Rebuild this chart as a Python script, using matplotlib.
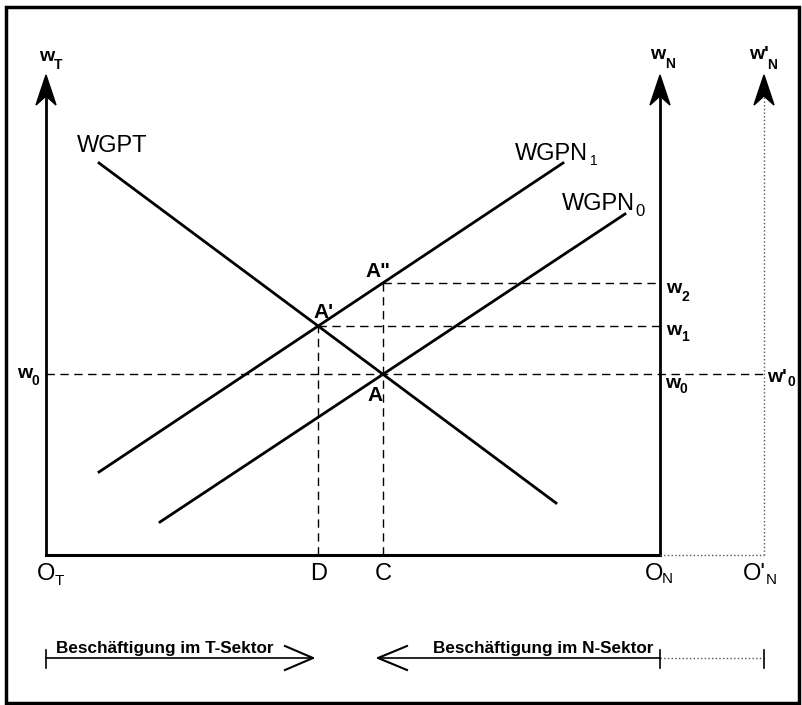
import numpy as np
import matplotlib
matplotlib.use("Agg")
import matplotlib.pyplot as plt
from matplotlib.patches import Polygon, Rectangle

# Set graph parameters.
plt.rcParams['font.family'] = ['Liberation Sans', 'DejaVu Sans']

# Diagram data (x: employment from O_T, y: wage).
x_origin_n = 614          # O_N
x_origin_n_new = 718      # O'_N
y_axis_top = 480
wgpt_x = [53, 510]
wgpt_y = [392, 52]
wgpn1_x = [53, 517]
wgpn1_y = [83, 392]
wgpn0_x = [114, 579]
wgpn0_y = [33, 341]


def line_coef(xs, ys):
    m = (ys[1] - ys[0]) / (xs[1] - xs[0])
    return m, ys[0] - m * xs[0]


def intersect(c1, c2):
    x = (c2[1] - c1[1]) / (c1[0] - c2[0])
    return x, c1[0] * x + c1[1]


c_t = line_coef(wgpt_x, wgpt_y)
c_n1 = line_coef(wgpn1_x, wgpn1_y)
c_n0 = line_coef(wgpn0_x, wgpn0_y)
x_c, w0 = intersect(c_t, c_n0)          # point A
x_d, w1 = intersect(c_t, c_n1)          # point A'
w2 = c_n1[0] * x_c + c_n1[1]            # point A''

fig = plt.figure(figsize=(8.02, 7.05), dpi=100)
ax = fig.add_axes([0, 0, 1, 1])
ax.set_xlim(-46, 756)
ax.set_ylim(-150, 555)
ax.axis('off')


def sub_label(x, y, main, sub, dx, dy, size=14, sub_size=10, weight='bold'):
    """ Draw a symbol with a lowered subscript. """
    ax.text(x, y, main, fontsize=size, fontweight=weight, ha='left', va='baseline')
    ax.text(x + dx, y - dy, sub, fontsize=sub_size, fontweight=weight, ha='left', va='baseline')


# Frame.
fig.patches.append(Rectangle((6 / 802, 2 / 705), 793 / 802, 696 / 705, transform=fig.transFigure,
                             fill=False, lw=2.5, ec='black'))

# Axes lines.
ax.plot([0, 0], [0, y_axis_top - 20], color='black', lw=2)
ax.plot([x_origin_n, x_origin_n], [0, y_axis_top - 20], color='black', lw=2)
ax.plot([x_origin_n_new, x_origin_n_new], [0, y_axis_top - 20], color='#555555', lw=1, ls=':')
ax.plot([0, x_origin_n], [0, 0], color='black', lw=2.2)
ax.plot([x_origin_n, x_origin_n_new], [0, 0], color='#555555', lw=1, ls=':')
for xa in [0, x_origin_n, x_origin_n_new]:
    ax.add_patch(Polygon([(xa, y_axis_top), (xa - 10, y_axis_top - 30), (xa, y_axis_top - 21),
                          (xa + 10, y_axis_top - 30)], closed=True, color='black'))

# Curves.
for xs, ys in [(wgpt_x, wgpt_y), (wgpn1_x, wgpn1_y), (wgpn0_x, wgpn0_y)]:
    ax.plot(xs, ys, color='black', lw=2)

# Dashed guide lines.
dash = dict(color='black', lw=1, ls=(0, (6, 4)))
ax.plot([0, x_origin_n_new], [w0, w0], **dash)
ax.plot([x_d, x_origin_n], [w1, w1], **dash)
ax.plot([x_c, x_origin_n], [w2, w2], **dash)
ax.plot([x_d, x_d], [0, w1], **dash)
ax.plot([x_c, x_c], [0, w2], **dash)

# Axis labels.
sub_label(-7, 494, "w", "T", 15, 8)
sub_label(604, 496, "w", "N", 15, 9)
sub_label(703, 496, "w'", "N", 18, 10)
sub_label(620, w2 - 10, "w", "2", 15, 8)
sub_label(620, w1 - 9, "w", "1", 15, 6)
sub_label(619, w0 - 14, "w", "0", 14, 5)
sub_label(721, w0 - 8, "w'", "0", 20, 4)
sub_label(-29, w0 - 4, "w", "0", 15, 7)

# Curve labels.
ax.text(66, 409, "WGPT", fontsize=17, ha='center', va='center')
sub_label(469, 395, "WGPN", "1", 75, 5, size=17, sub_size=10, weight='normal')
sub_label(516, 345, "WGPN", "0", 73, 6, size=17, sub_size=12, weight='normal')

# Points.
ax.text(x_c - 18, w2 + 6, 'A"', fontsize=15, fontweight='bold', ha='left', va='baseline')
ax.text(x_d - 5, w1 + 8, "A'", fontsize=15, fontweight='bold', ha='left', va='baseline')
ax.text(x_c - 16, w0 - 27, "A", fontsize=15, fontweight='bold', ha='left', va='baseline')

# Origins and employment levels.
sub_label(-9, -25, "O", "T", 18, 5, size=17, sub_size=11, weight='normal')
ax.text(x_d, -25, "D", fontsize=17, ha='center', va='baseline')
ax.text(x_c, -25, "C", fontsize=17, ha='center', va='baseline')
sub_label(599, -25, "O", "N", 17, 3, size=17, sub_size=11, weight='normal')
sub_label(697, -25, "O'", "N", 23, 4, size=17, sub_size=11, weight='normal')

# Employment arrows.
y_arr = -103
ax.plot([0, 267], [y_arr, y_arr], color='black', lw=1.2)
ax.plot([0, 0], [y_arr + 8, y_arr - 10], color='black', lw=1.2)
ax.plot([239, 267, 239], [y_arr + 12, y_arr, y_arr - 12], color='black', lw=1.5)
ax.text(10, y_arr + 5, "Beschäftigung im T-Sektor", fontsize=12.3, fontweight='bold',
        ha='left', va='baseline')

ax.plot([332, x_origin_n], [y_arr, y_arr], color='black', lw=1.2)
ax.plot([x_origin_n, x_origin_n_new], [y_arr, y_arr], color='#555555', lw=1, ls=':')
ax.plot([361, 332, 361], [y_arr + 12, y_arr, y_arr - 12], color='black', lw=1.5)
ax.plot([x_origin_n, x_origin_n], [y_arr + 8, y_arr - 10], color='black', lw=1.2)
ax.plot([x_origin_n_new, x_origin_n_new], [y_arr + 8, y_arr - 10], color='black', lw=1.2)
ax.text(387, y_arr + 5, "Beschäftigung im N-Sektor", fontsize=12.3, fontweight='bold',
        ha='left', va='baseline')

fig.savefig("out.png", dpi=100)
